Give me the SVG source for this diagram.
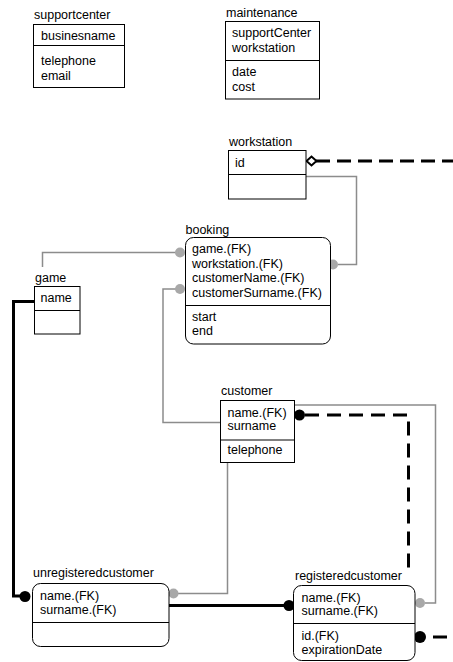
<svg xmlns="http://www.w3.org/2000/svg" width="453" height="662" viewBox="0 0 453 662">
  <style>
    text { font-family: "Liberation Sans", Arial, sans-serif; font-size: 12.5px; fill: #000; }
    .box { fill: #fff; stroke: #000; stroke-width: 1; }
    .div { stroke: #000; stroke-width: 1; }
    .rel { fill: none; stroke: #8c8c8c; stroke-width: 1.5; }
    .idrel { fill: none; stroke: #000; stroke-width: 3; }
    .dash { fill: none; stroke: #000; stroke-width: 3; stroke-dasharray: 14 8; }
    .gdot { fill: #a8a8a8; stroke: none; }
    .bdot { fill: #000; stroke: none; }
  </style>
  <rect width="453" height="662" fill="#fff"/>

  <!-- connectors -->
  <g id="connectors">
    <!-- game -> booking -->
    <path class="rel" d="M42.5,267 V252.5 H176"/>
    <circle class="gdot" cx="180" cy="252.5" r="5"/>
    <!-- customer -> booking -->
    <path class="rel" d="M176,289 H163 V422.5 H220"/>
    <circle class="gdot" cx="180" cy="289" r="5"/>
    <!-- workstation -> booking -->
    <path class="rel" d="M306,176.5 H356.5 V264.5 H338"/>
    <circle class="gdot" cx="333" cy="264.5" r="5"/>
    <!-- customer -> registeredcustomer -->
    <path class="rel" d="M294.5,405 H435.5 V603 H425"/>
    <circle class="gdot" cx="420" cy="603" r="5"/>
    <!-- customer -> unregisteredcustomer -->
    <path class="rel" d="M227.5,463 V593.5 H178"/>
    <circle class="gdot" cx="173.5" cy="593.5" r="5"/>
    <!-- game -> unregisteredcustomer -->
    <path class="idrel" d="M34,301.5 H13.5 V596 H25"/>
    <circle class="bdot" cx="25" cy="596.5" r="5.5"/>
    <!-- unregisteredcustomer -> registeredcustomer -->
    <path class="idrel" d="M169,605.5 H289"/>
    <circle class="bdot" cx="289" cy="605.5" r="5.5"/>
    <!-- customer -> registeredcustomer (dashed) -->
    <circle class="bdot" cx="299.5" cy="415" r="5.5"/>
    <path class="dash" d="M305,415 H408.5 V568"/>
    <!-- workstation -> off to the right (dashed) -->
    <path class="dash" d="M316,161 H453" style="stroke-dasharray: 14 7"/>
    <polygon points="306.5,161 311.5,156.5 316.5,161 311.5,165.5" fill="#fff" stroke="#000" stroke-width="2"/>
    <!-- registeredcustomer id -> off to the right (dashed) -->
    <circle class="bdot" cx="420" cy="637" r="6"/>
    <path d="M433,637 H447" stroke="#000" stroke-width="3"/>
  </g>

  <g id="supportcenter">
    <text x="34" y="19">supportcenter</text>
    <rect class="box" x="33.5" y="24.5" width="91" height="63"/>
    <line class="div" x1="33.5" y1="45.5" x2="124.5" y2="45.5"/>
    <text x="41" y="40">businesname</text>
    <text x="41" y="65">telephone</text>
    <text x="41" y="79.5">email</text>
  </g>

  <g id="maintenance">
    <text x="226" y="17">maintenance</text>
    <rect class="box" x="225.5" y="21.5" width="94" height="77.5"/>
    <line class="div" x1="225.5" y1="60.5" x2="319.5" y2="60.5"/>
    <text x="232" y="37">supportCenter</text>
    <text x="232" y="51.5">workstation</text>
    <text x="232" y="75.5">date</text>
    <text x="232" y="90.5">cost</text>
  </g>

  <g id="workstation">
    <text x="229" y="145.5">workstation</text>
    <rect class="box" x="228.5" y="150.5" width="77.5" height="48.5"/>
    <line class="div" x1="228.5" y1="174.5" x2="306" y2="174.5"/>
    <text x="235" y="166.5">id</text>
  </g>

  <g id="booking">
    <text x="185.5" y="234">booking</text>
    <rect class="box" x="185.5" y="237.5" width="145" height="106.5" rx="8"/>
    <line class="div" x1="185.5" y1="305.5" x2="330.5" y2="305.5"/>
    <text x="192" y="253">game.(FK)</text>
    <text x="192" y="267.5">workstation.(FK)</text>
    <text x="192" y="282">customerName.(FK)</text>
    <text x="192" y="296.5">customerSurname.(FK)</text>
    <text x="192" y="321">start</text>
    <text x="192" y="335">end</text>
  </g>

  <g id="game">
    <text x="35" y="281.5">game</text>
    <rect class="box" x="34.5" y="286.5" width="45.5" height="47.5"/>
    <line class="div" x1="34.5" y1="310.5" x2="80" y2="310.5"/>
    <text x="40.5" y="301.5">name</text>
  </g>

  <g id="customer">
    <text x="221" y="395">customer</text>
    <rect class="box" x="220.5" y="400.5" width="74" height="62"/>
    <line class="div" x1="220.5" y1="440" x2="294.5" y2="440"/>
    <text x="227.5" y="416.5">name.(FK)</text>
    <text x="227.5" y="430">surname</text>
    <text x="227.5" y="454">telephone</text>
  </g>

  <g id="unregisteredcustomer">
    <text x="33" y="576.5">unregisteredcustomer</text>
    <rect class="box" x="32.5" y="583.5" width="136.5" height="63" rx="8"/>
    <line class="div" x1="32.5" y1="622.5" x2="169" y2="622.5"/>
    <text x="40" y="600">name.(FK)</text>
    <text x="40" y="614">surname.(FK)</text>
  </g>

  <g id="registeredcustomer">
    <text x="295" y="580">registeredcustomer</text>
    <rect class="box" x="293.5" y="585.5" width="121.5" height="75" rx="8"/>
    <line class="div" x1="293.5" y1="623.5" x2="415" y2="623.5"/>
    <text x="301.5" y="601.5">name.(FK)</text>
    <text x="301.5" y="615">surname.(FK)</text>
    <text x="301.5" y="640">id.(FK)</text>
    <text x="301.5" y="653.5">expirationDate</text>
  </g>
</svg>
